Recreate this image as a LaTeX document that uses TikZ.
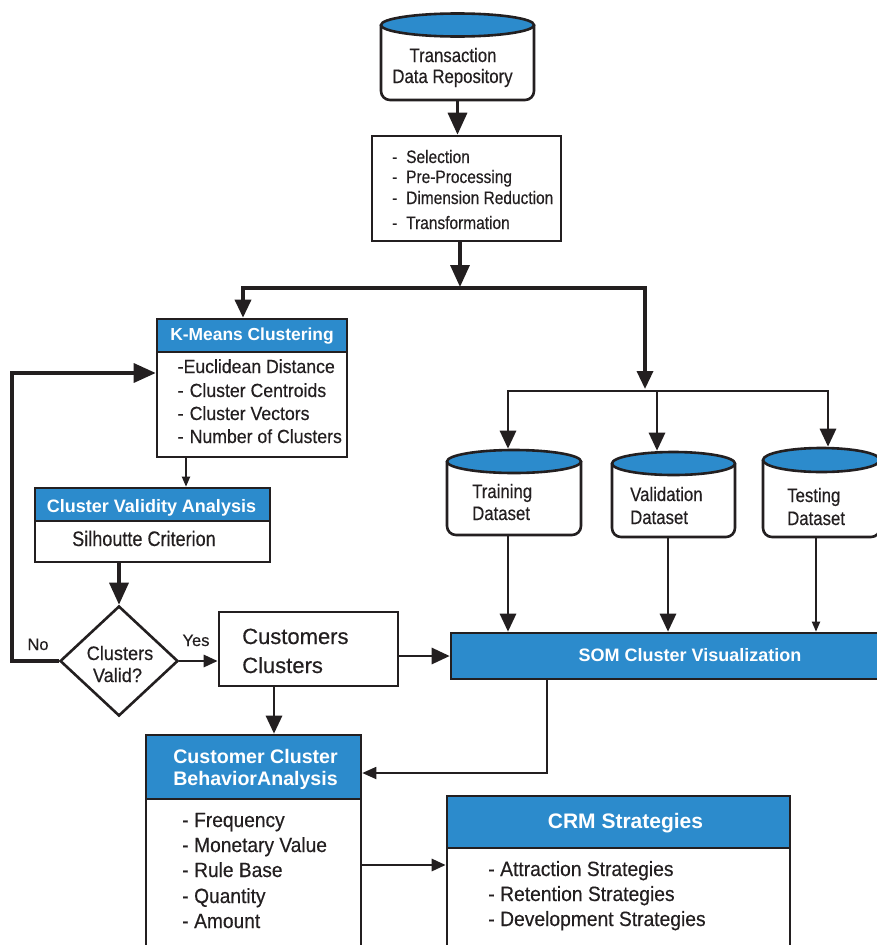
\documentclass[tikz,border=0pt]{standalone}
\usepackage{fontspec}
\setmainfont{Liberation Sans}
\newfontfamily\fA{Liberation Sans}[FakeStretch=0.86,FakeBold=0.4]
\newfontfamily\fB{Liberation Sans}[FakeStretch=0.93,FakeBold=0.4]
\newfontfamily\fR{Liberation Sans}[FakeBold=0.4]
\usetikzlibrary{arrows.meta,shapes.geometric}
\definecolor{cblue}{RGB}{44,139,204}
\definecolor{ink}{RGB}{35,31,32}
\newcommand{\fs}[1]{\fontsize{#1}{#1}\selectfont}
\newcommand{\dsh}[1]{\makebox[#1][l]{-}}
\begin{document}
\begin{tikzpicture}[x=1pt,y=-1pt,
  box/.style={draw=ink, line width=2.6pt, inner sep=0},
  ghost/.style={inner sep=0, outer sep=1.3pt},
  cylb/.style={draw=ink, line width=2.6pt, rounded corners=9pt, fill=white},
  cylt/.style={draw=ink, line width=2.6pt, fill=cblue},
  conn/.style={draw=ink, line width=3.4pt},
  connm/.style={draw=ink, line width=2.8pt},
  connt/.style={draw=ink, line width=1.8pt},
  tipL/.style={-{Triangle[length=22pt,width=19pt]}},
  tipM/.style={-{Triangle[length=18pt,width=16pt]}},
  tipS/.style={-{Triangle[length=14pt,width=12pt]}},
  tipT/.style={-{Triangle[length=10pt,width=8pt]}},
  txt/.style={inner sep=0, anchor=base west, text=ink},
  ctxt/.style={inner sep=0, anchor=base, text=ink},
  hdr/.style={inner sep=0, anchor=base, text=white, font=\bfseries},
]
\clip (0,0) rectangle (877,945);
\fill[white] (0,0) rectangle (877,945);

% ---------- cylinders ----------
\draw[cylb] (381,25) -- (381,100) -- (534,100) -- (534,25);
\draw[cylt] (457.5,25) ellipse [x radius=76.5, y radius=11.5];
\node[ghost, minimum width=153pt, minimum height=86.5pt] (repo) at (457.5,56.75) {};
\node[ctxt, font=\fA\fs{19.5}] (t1) at (453,62) {Transaction};
\node[ctxt, font=\fA\fs{19.5}] (t2) at (452.5,83) {Data Repository};

\draw[cylb] (447,461.5) -- (447,535) -- (581,535) -- (581,461.5);
\draw[cylt] (514,461.5) ellipse [x radius=67, y radius=11.5];
\node[ghost, minimum width=134pt, minimum height=85pt] (train) at (514,492.5) {};
\node[txt, font=\fA\fs{19.5}] (tr1) at (472,498) {Training};
\node[txt, font=\fA\fs{19.5}] (tr2) at (472,520) {Dataset};

\draw[cylb] (612,463.5) -- (612,537) -- (735,537) -- (735,463.5);
\draw[cylt] (673.5,463.5) ellipse [x radius=61.5, y radius=11.5];
\node[ghost, minimum width=123pt, minimum height=85pt] (val) at (673.5,494.5) {};
\node[txt, font=\fA\fs{19.5}] (va1) at (630,501) {Validation};
\node[txt, font=\fA\fs{19.5}] (va2) at (630,524) {Dataset};

\draw[cylb] (763,460) -- (763,537) -- (880,537) -- (880,460);
\draw[cylt] (821.5,460) ellipse [x radius=58.5, y radius=12];
\node[ghost, minimum width=117pt, minimum height=89pt] (test) at (821.5,492.5) {};
\node[txt, font=\fA\fs{19.5}] (te1) at (787,502) {Testing};
\node[txt, font=\fA\fs{19.5}] (te2) at (787,525) {Dataset};

% ---------- preprocessing box ----------
\node[box, minimum width=189pt, minimum height=105pt] (pre) at (466.5,188.5) {};
\node[txt, font=\fA\fs{18}] (p1) at (392,163) {\dsh{14pt}Selection};
\node[txt, font=\fA\fs{18}] (p2) at (392,183) {\dsh{14pt}Pre-Processing};
\node[txt, font=\fA\fs{18}] (p3) at (392,204) {\dsh{14pt}Dimension Reduction};
\node[txt, font=\fA\fs{18}] (p4) at (392,229) {\dsh{14pt}Transformation};

% ---------- K-Means ----------
\fill[cblue] (157,319) rectangle (347,352);
\node[box, minimum width=190pt, minimum height=138pt] (km) at (252,388) {};
\draw[ink, line width=2.6pt] (157,352) -- (347,352);
\node[hdr, font=\bfseries\fs{17.4}] (kh) at (252,340) {K-Means Clustering};
\node[txt, font=\fB\fs{19}] (k1) at (177.5,373) {-Euclidean Distance};
\node[txt, font=\fB\fs{19}] (k2) at (177.5,397) {\dsh{12pt}Cluster Centroids};
\node[txt, font=\fB\fs{19}] (k3) at (177.5,420) {\dsh{12pt}Cluster Vectors};
\node[txt, font=\fB\fs{19}] (k4) at (177.5,443) {\dsh{12pt}Number of Clusters};

% ---------- Cluster validity ----------
\fill[cblue] (35,488) rectangle (270,521);
\node[box, minimum width=235pt, minimum height=74pt] (valid) at (152.5,525) {};
\draw[ink, line width=2.6pt] (35,521) -- (270,521);
\node[hdr, font=\bfseries\fs{18}] (vh) at (151.5,512) {Cluster Validity Analysis};
\node[ctxt, font=\fA\fs{21}] (vs) at (144,546) {Silhoutte Criterion};

% ---------- diamond ----------
\node[draw=ink, line width=2.6pt, diamond, minimum width=118pt, minimum height=110pt, inner sep=0] (dia) at (119,661) {};
\node[ctxt, font=\fB\fs{19.5}] (d1) at (120,660) {Clusters};
\node[ctxt, font=\fB\fs{19.5}] (d2) at (117.5,682) {Valid?};
\node[ctxt, font=\fR\fs{16.5}] (yes) at (196,646) {Yes};
\node[ctxt, font=\fR\fs{16.5}] (no) at (38,650) {No};

% ---------- Customers clusters ----------
\node[box, minimum width=179pt, minimum height=74pt] (cust) at (308.5,649) {};
\node[txt, font=\fR\fs{22}] (c1) at (242,644) {Customers};
\node[txt, font=\fR\fs{22}] (c2) at (242,673) {Clusters};

% ---------- SOM ----------
\node[box, fill=cblue, minimum width=429pt, minimum height=46pt] (som) at (665.5,656) {};
\node[hdr, font=\bfseries\fs{18}] (sh) at (690,661) {SOM Cluster Visualization};

% ---------- Behavior ----------
\fill[cblue] (146,735) rectangle (361,799);
\node[box, minimum width=215pt, minimum height=215pt] (beh) at (253.5,842.5) {};
\draw[ink, line width=2.6pt] (146,799) -- (361,799);
\node[hdr, font=\bfseries\fs{19.6}] (bh1) at (255.5,763) {Customer Cluster};
\node[hdr, font=\bfseries\fs{19.6}] (bh2) at (255.5,785) {BehaviorAnalysis};
\node[txt, font=\fB\fs{20.6}] (b1) at (182,827) {\dsh{12pt}Frequency};
\node[txt, font=\fB\fs{20.6}] (b2) at (182,852) {\dsh{12pt}Monetary Value};
\node[txt, font=\fB\fs{20.6}] (b3) at (182,877) {\dsh{12pt}Rule Base};
\node[txt, font=\fB\fs{20.6}] (b4) at (182,903) {\dsh{12pt}Quantity};
\node[txt, font=\fB\fs{20.6}] (b5) at (182,928) {\dsh{12pt}Amount};

% ---------- CRM ----------
\fill[cblue] (447,796) rectangle (790,848);
\node[box, minimum width=343pt, minimum height=154pt] (crm) at (618.5,873) {};
\draw[ink, line width=2.6pt] (447,848) -- (790,848);
\node[hdr, font=\bfseries\fs{21}] (ch) at (625.5,828) {CRM Strategies};
\node[txt, font=\fB\fs{20.7}] (cr1) at (488,876) {\dsh{12pt}Attraction Strategies};
\node[txt, font=\fB\fs{20.7}] (cr2) at (488,901) {\dsh{12pt}Retention Strategies};
\node[txt, font=\fB\fs{20.7}] (cr3) at (488,926) {\dsh{12pt}Development Strategies};

% ---------- coordinates ----------
\coordinate (j1) at (460,287);
\coordinate (jL) at (243,288);
\coordinate (jR) at (645,288);
\coordinate (jD) at (645,389);
\coordinate (dL) at (508,391);
\coordinate (dM) at (657,391);
\coordinate (dR) at (828,391);
\coordinate (sV) at (668,600);
\coordinate (sT) at (816,600);
\coordinate (nL) at (12,373);
\coordinate (cK) at (186,470);
\coordinate (cB) at (274,700);
\coordinate (sc) at (547,773);
\coordinate (bc) at (400,865);

% ---------- connectors ----------
\draw[conn, tipL] (repo.south) -- (repo.south |- pre.north);
\draw[conn, tipL] (pre.south -| j1) -- (j1);
\draw[conn, tipM] (jR) -- (jL) -- (jL |- km.north);
\draw[conn, tipM] (jL) -- (jR) -- (jD);
\draw[connm, tipM] (dR) -- (dL) -- (dL |- train.north);
\draw[connm, tipM] (dL) -- (dR) -- (dR |- test.north);
\draw[connm, tipM] (dM) -- (dM |- val.north);
\draw[connm, tipM] (train.south -| dL) -- (som.north -| dL);
\draw[connm, tipM] (val.south -| sV) -- (som.north -| sV);
\draw[connt, tipT] (test.south -| sT) -- (som.north -| sT);
\draw[connm, tipM] (cust.east |- som.west) -- (som.west);
\draw[connm, tipS] (dia.east) -- (dia.east -| cust.west);
\draw[conn, tipL] (dia.west) -| (nL) -- (nL -| km.west);
\draw[connt, tipT] (km.south -| cK) -- (valid.north -| cK);
\draw[conn, tipL] (valid.south -| dia.north) -- (dia.north);
\draw[connm, tipM] (cust.south -| cB) -- (beh.north -| cB);
\draw[connt, tipS] (som.south -| sc) -- (sc) -- (sc -| beh.east);
\draw[connm, tipS] (beh.east |- bc) -- (crm.west |- bc);
\end{tikzpicture}
\end{document}
